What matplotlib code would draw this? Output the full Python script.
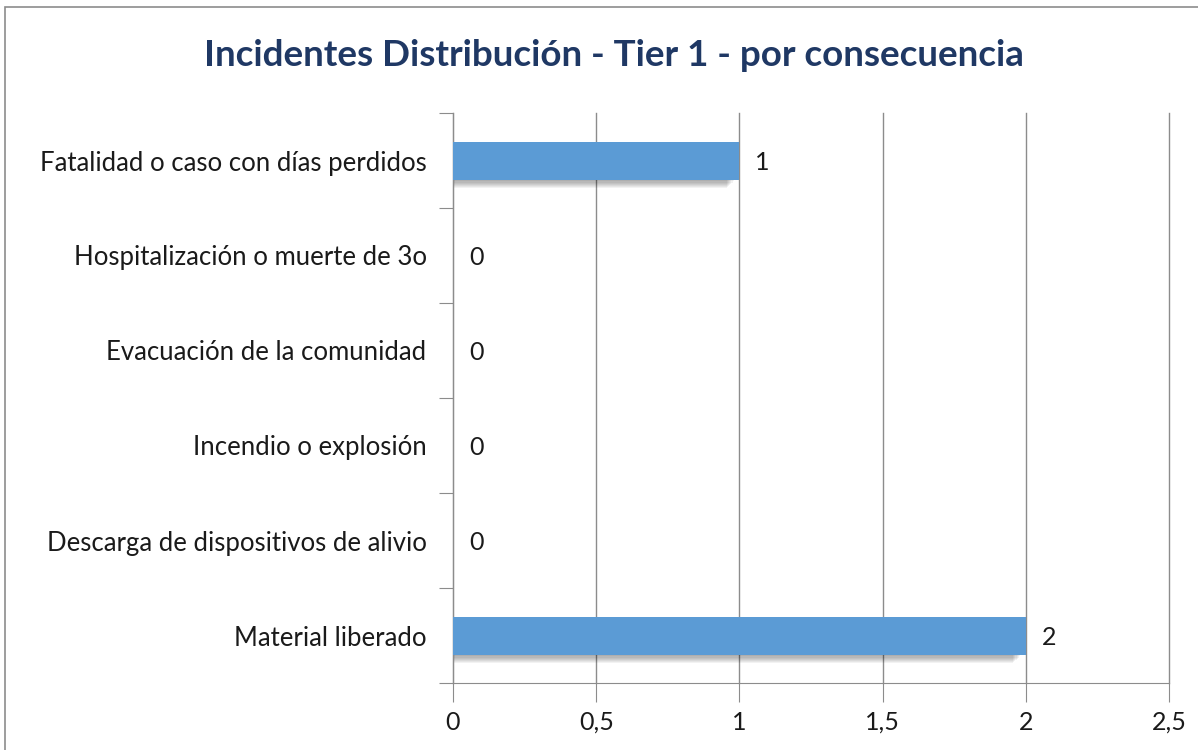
import matplotlib.pyplot as plt
from matplotlib.patches import Rectangle

categories = [
    "Fatalidad o caso con días perdidos",
    "Hospitalización o muerte de 3o",
    "Evacuación de la comunidad",
    "Incendio o explosión",
    "Descarga de dispositivos de alivio",
    "Material liberado",
]
values = [1, 0, 0, 0, 0, 2]
xticks = [0, 0.5, 1, 1.5, 2, 2.5]
xtick_labels = ["0", "0,5", "1", "1,5", "2", "2,5"]

plt.rcParams["font.family"] = ["Lato", "DejaVu Sans"]

fig = plt.figure(figsize=(11.98, 7.5), dpi=100)
fig.patches.append(Rectangle((5 / 1198, -0.1), 1.2, 1 - 7 / 750 + 0.1,
                             transform=fig.transFigure, fill=False,
                             edgecolor="#8c8c8c", linewidth=1.2))
ax = fig.add_axes([453 / 1198, 1 - 683 / 750, 716 / 1198, 570 / 750])

n = len(categories)
ypos = list(range(n))
bar_h = 0.4

# soft drop shadow under each bar
for k in range(7):
    off = 0.02 + k * 0.012
    ax.barh([y + off for y in ypos], [max(v - 0.02 - k * 0.004, 0) for v in values],
            height=bar_h, left=0, color="black", alpha=0.05, zorder=2)
ax.barh(ypos, values, height=bar_h, color="#5b9bd5", zorder=3)

for y, v in zip(ypos, values):
    ax.text(v + 0.055, y + 0.02, str(v), va="center", ha="left", fontsize=18, color="#1a1a1a")

ax.set_ylim(n - 0.5, -0.5)
ax.set_xlim(0, 2.5)
ax.set_yticks([y - 0.5 for y in range(n + 1)], minor=False)
ax.set_yticklabels([])
ax.set_yticks(ypos, minor=True)
ax.set_yticklabels(categories, minor=True, fontsize=18.5, color="#1a1a1a")
ax.tick_params(axis="y", which="minor", length=0, pad=19)
ax.tick_params(axis="y", which="major", length=10, color="#8c8c8c")
ax.set_xticks(xticks)
ax.set_xticklabels(xtick_labels, fontsize=18, color="#1a1a1a")
ax.tick_params(axis="x", length=14, color="#8c8c8c", pad=6)

ax.grid(axis="x", color="#8c8c8c", linewidth=1, zorder=0)
for line in ax.get_xgridlines():
    line.set_clip_on(False)
ax.set_axisbelow(True)
for side in ["top", "right"]:
    ax.spines[side].set_visible(False)
for side in ["left", "bottom"]:
    ax.spines[side].set_color("#8c8c8c")

fig.text(614 / 1198, 1 - 56 / 750, "Incidentes Distribución - Tier 1 - por consecuencia",
         ha="center", va="center", fontsize=26.5, fontweight="bold", color="#1f3864")

fig.savefig("out.png", dpi=100)
